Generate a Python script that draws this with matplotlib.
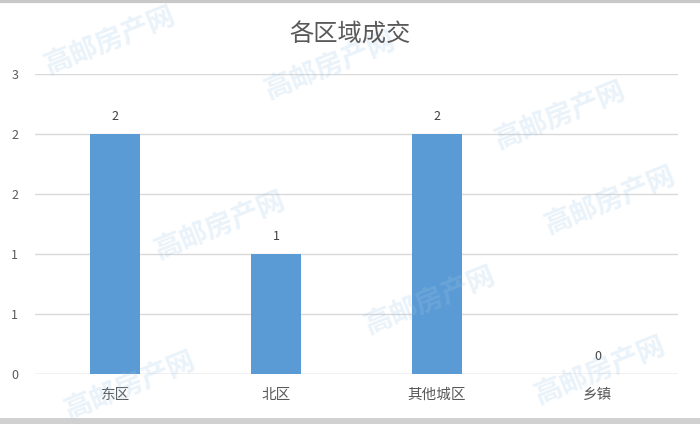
import matplotlib.pyplot as plt
from matplotlib.ticker import FuncFormatter

plt.rcParams['font.family'] = ['Noto Sans CJK SC', 'DejaVu Sans']

regions = ['东区', '北区', '其他城区', '乡镇']
deals = [2, 1, 2, 0]
y_ticks = [0, 0.5, 1, 1.5, 2, 2.5]

# faint site watermark, figure-pixel centres
wm_x = [110, 330, 560, 220, 610, 430, 600, 130]
wm_y = [40, 65, 115, 225, 200, 300, 370, 385]

fig = plt.figure(figsize=(7, 4.24), dpi=100)
fig.patch.set_facecolor('white')
ax = fig.add_axes([0.05, 0.118, 0.919, 0.708])

x = range(len(regions))
ax.bar(x, deals, width=0.31, color='#5B9BD5', zorder=3)
for xi, v in zip(x, deals):
    ax.text(xi, v + 0.09, str(v), ha='center', va='bottom', fontsize=9, color='#404040', zorder=4)

ax.set_xlim(-0.5, len(regions) - 0.5)
ax.set_ylim(0, 2.5)
ax.set_yticks(y_ticks)
ax.yaxis.set_major_formatter(FuncFormatter(lambda v, p: str(int(v + 0.5))))
ax.set_xticks(list(x))
ax.set_xticklabels(regions, fontsize=10.5, color='#595959')
ax.tick_params(axis='y', labelsize=9, labelcolor='#595959', length=0, pad=12)
ax.tick_params(axis='x', length=0, pad=10)
ax.grid(axis='y', color='#D9D9D9', linewidth=1, zorder=0)
for s in ax.spines.values():
    s.set_visible(False)
ax.axhline(0, color='#D9D9D9', linewidth=1, zorder=1)

fig.text(0.5, 0.918, '各区域成交', ha='center', va='center', fontsize=17.5, color='#595959')

for wx, wy in zip(wm_x, wm_y):
    fig.text(wx / 700, 1 - wy / 424, '高邮房产网', ha='center', va='center', fontsize=20,
             rotation=22, color='#9ec6e8', alpha=0.22, fontweight='bold', zorder=0)

fig.add_artist(plt.Line2D([0, 1], [0.997, 0.997], color='#C8C8C8', linewidth=3, transform=fig.transFigure))
fig.add_artist(plt.Line2D([0, 1], [0.008, 0.008], color='#D0D0D0', linewidth=5, transform=fig.transFigure))

fig.savefig('out.png', dpi=100)
